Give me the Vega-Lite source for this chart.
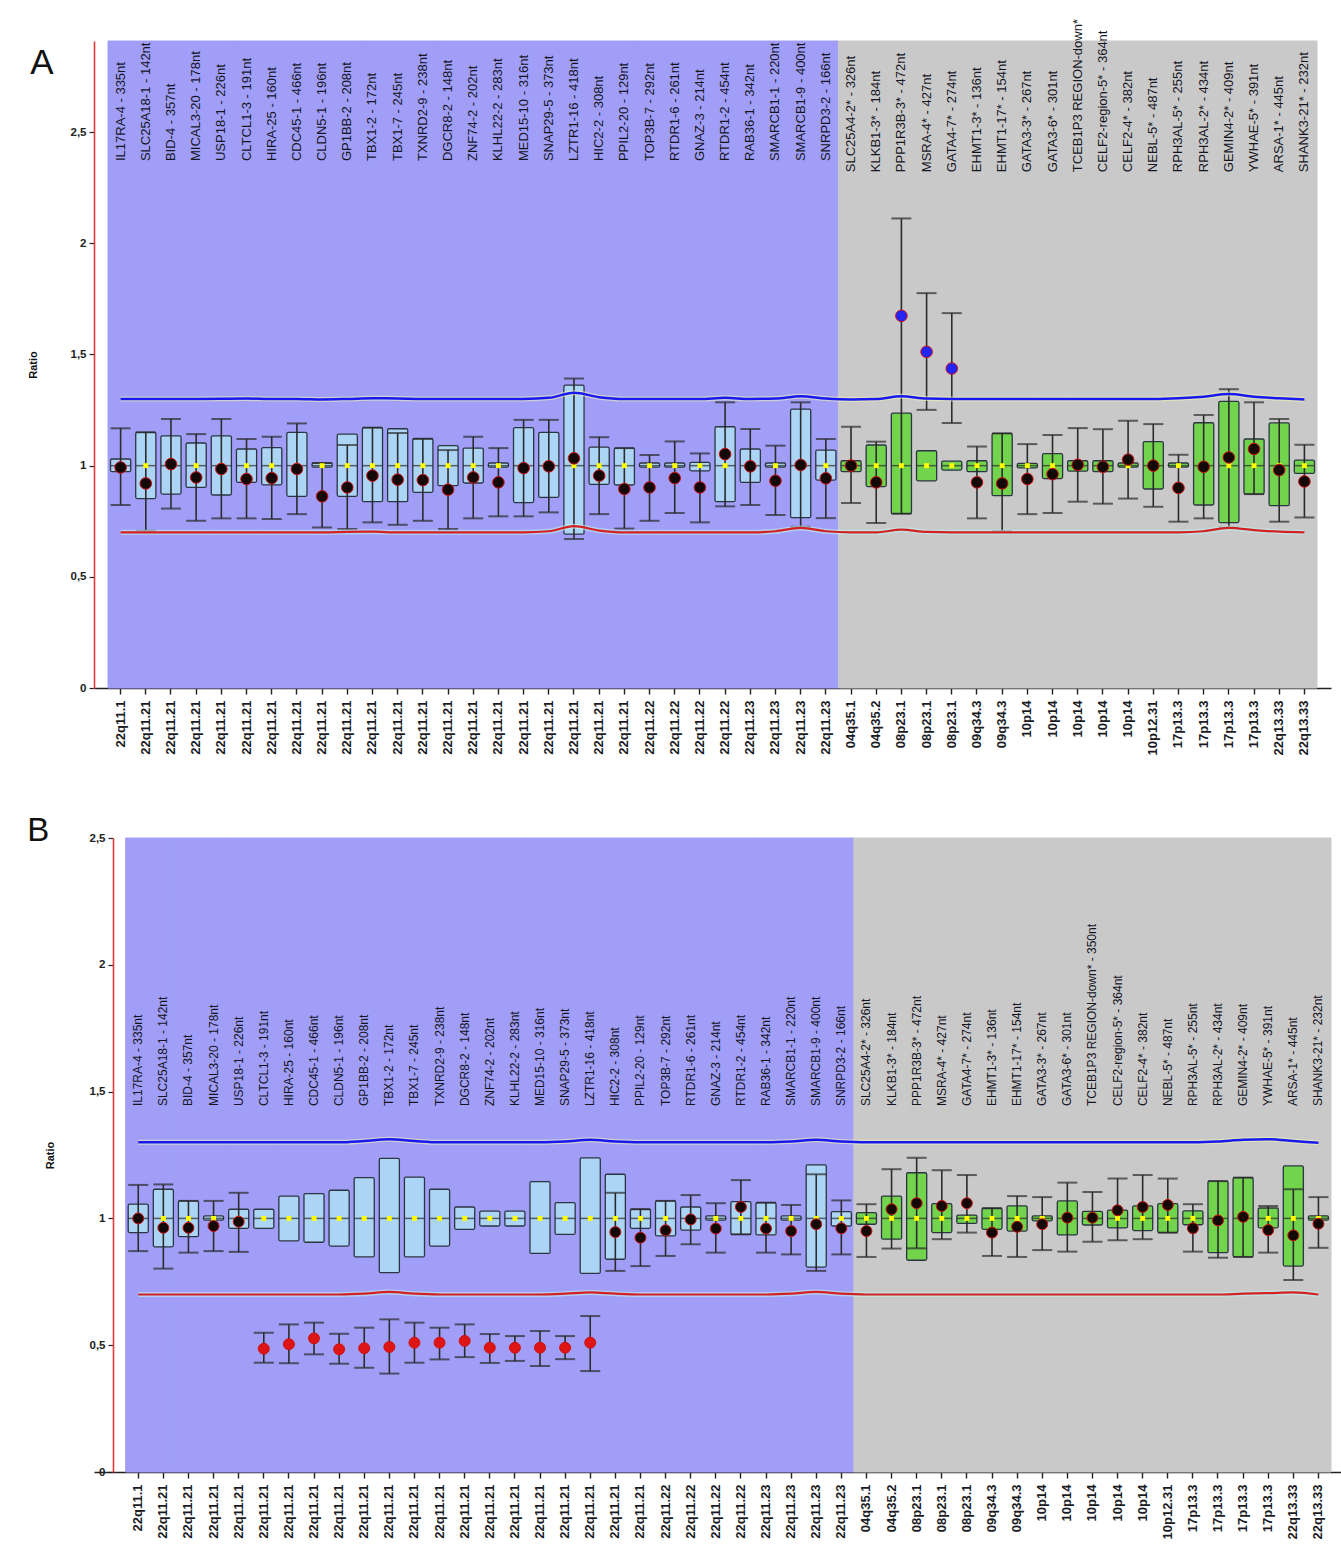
{
"$schema": "https://vega.github.io/schema/vega-lite/v6.json",
"autosize": "pad",
"padding": {"left": 27, "top": 15, "right": 0, "bottom": 0},
"background": "white",
"config": {"view": {"stroke": null}, "font": "Liberation Sans", "axis": {"labelFont": "Liberation Sans", "titleFont": "Liberation Sans"}},
"data": {"values": [
{"p":"A","n":1,"probe":"IL17RA-4 - 335nt","band":"22q11.1","reg":"22q","q1":0.973,"q3":1.03,"lo":0.823,"hi":1.168,"r":0.992,"c":"n","up":1.30,"dn":0.70},
{"p":"A","n":2,"probe":"SLC25A18-1 - 142nt","band":"22q11.21","reg":"22q","q1":0.852,"q3":1.15,"lo":0.707,"hi":1.15,"r":0.92,"c":"n","up":1.30,"dn":0.70},
{"p":"A","n":3,"probe":"BID-4 - 357nt","band":"22q11.21","reg":"22q","q1":0.872,"q3":1.134,"lo":0.807,"hi":1.21,"r":1.007,"c":"n","up":1.30,"dn":0.70},
{"p":"A","n":4,"probe":"MICAL3-20 - 178nt","band":"22q11.21","reg":"22q","q1":0.902,"q3":1.102,"lo":0.752,"hi":1.142,"r":0.947,"c":"n","up":1.30,"dn":0.70},
{"p":"A","n":5,"probe":"USP18-1 - 226nt","band":"22q11.21","reg":"22q","q1":0.868,"q3":1.134,"lo":0.763,"hi":1.21,"r":0.985,"c":"n","up":1.301,"dn":0.70},
{"p":"A","n":6,"probe":"CLTCL1-3 - 191nt","band":"22q11.21","reg":"22q","q1":0.925,"q3":1.075,"lo":0.763,"hi":1.12,"r":0.94,"c":"n","up":1.302,"dn":0.70},
{"p":"A","n":7,"probe":"HIRA-25 - 160nt","band":"22q11.21","reg":"22q","q1":0.914,"q3":1.081,"lo":0.76,"hi":1.13,"r":0.944,"c":"n","up":1.30,"dn":0.70},
{"p":"A","n":8,"probe":"CDC45-1 - 466nt","band":"22q11.21","reg":"22q","q1":0.862,"q3":1.15,"lo":0.782,"hi":1.19,"r":0.985,"c":"n","up":1.30,"dn":0.70},
{"p":"A","n":9,"probe":"CLDN5-1 - 196nt","band":"22q11.21","reg":"22q","q1":0.993,"q3":1.012,"lo":0.722,"hi":1.012,"r":0.862,"c":"n","up":1.298,"dn":0.70},
{"p":"A","n":10,"probe":"GP1BB-2 - 208nt","band":"22q11.21","reg":"22q","q1":0.862,"q3":1.142,"lo":0.715,"hi":1.093,"r":0.902,"c":"n","up":1.30,"dn":0.702},
{"p":"A","n":11,"probe":"TBX1-2 - 172nt","band":"22q11.21","reg":"22q","q1":0.838,"q3":1.171,"lo":0.745,"hi":1.171,"r":0.955,"c":"n","up":1.303,"dn":0.703},
{"p":"A","n":12,"probe":"TBX1-7 - 245nt","band":"22q11.21","reg":"22q","q1":0.838,"q3":1.166,"lo":0.734,"hi":1.147,"r":0.937,"c":"n","up":1.302,"dn":0.70},
{"p":"A","n":13,"probe":"TXNRD2-9 - 238nt","band":"22q11.21","reg":"22q","q1":0.88,"q3":1.121,"lo":0.752,"hi":1.121,"r":0.935,"c":"n","up":1.30,"dn":0.70},
{"p":"A","n":14,"probe":"DGCR8-2 - 148nt","band":"22q11.21","reg":"22q","q1":0.91,"q3":1.09,"lo":0.715,"hi":1.07,"r":0.892,"c":"n","up":1.30,"dn":0.70},
{"p":"A","n":15,"probe":"ZNF74-2 - 202nt","band":"22q11.21","reg":"22q","q1":0.922,"q3":1.079,"lo":0.763,"hi":1.13,"r":0.947,"c":"n","up":1.30,"dn":0.70},
{"p":"A","n":16,"probe":"KLHL22-2 - 283nt","band":"22q11.21","reg":"22q","q1":0.993,"q3":1.012,"lo":0.772,"hi":1.079,"r":0.925,"c":"n","up":1.30,"dn":0.70},
{"p":"A","n":17,"probe":"MED15-10 - 316nt","band":"22q11.21","reg":"22q","q1":0.834,"q3":1.171,"lo":0.772,"hi":1.206,"r":0.989,"c":"n","up":1.30,"dn":0.70},
{"p":"A","n":18,"probe":"SNAP29-5 - 373nt","band":"22q11.21","reg":"22q","q1":0.857,"q3":1.15,"lo":0.79,"hi":1.206,"r":0.997,"c":"n","up":1.305,"dn":0.705},
{"p":"A","n":19,"probe":"LZTR1-16 - 418nt","band":"22q11.21","reg":"22q","q1":0.692,"q3":1.362,"lo":0.67,"hi":1.392,"r":1.033,"c":"n","up":1.328,"dn":0.728},
{"p":"A","n":20,"probe":"HIC2-2 - 308nt","band":"22q11.21","reg":"22q","q1":0.916,"q3":1.083,"lo":0.782,"hi":1.128,"r":0.955,"c":"n","up":1.308,"dn":0.708},
{"p":"A","n":21,"probe":"PPIL2-20 - 129nt","band":"22q11.21","reg":"22q","q1":0.913,"q3":1.079,"lo":0.717,"hi":1.079,"r":0.895,"c":"n","up":1.30,"dn":0.70},
{"p":"A","n":22,"probe":"TOP3B-7 - 292nt","band":"22q11.22","reg":"22q","q1":0.993,"q3":1.012,"lo":0.752,"hi":1.048,"r":0.902,"c":"n","up":1.30,"dn":0.70},
{"p":"A","n":23,"probe":"RTDR1-6 - 261nt","band":"22q11.22","reg":"22q","q1":0.993,"q3":1.012,"lo":0.787,"hi":1.109,"r":0.944,"c":"n","up":1.30,"dn":0.70},
{"p":"A","n":24,"probe":"GNAZ-3 - 214nt","band":"22q11.22","reg":"22q","q1":0.977,"q3":1.015,"lo":0.745,"hi":1.055,"r":0.902,"c":"n","up":1.30,"dn":0.70},
{"p":"A","n":25,"probe":"RTDR1-2 - 454nt","band":"22q11.22","reg":"22q","q1":0.838,"q3":1.175,"lo":0.817,"hi":1.285,"r":1.052,"c":"n","up":1.305,"dn":0.70},
{"p":"A","n":26,"probe":"RAB36-1 - 342nt","band":"22q11.23","reg":"22q","q1":0.925,"q3":1.075,"lo":0.823,"hi":1.165,"r":0.997,"c":"n","up":1.30,"dn":0.70},
{"p":"A","n":27,"probe":"SMARCB1-1 - 220nt","band":"22q11.23","reg":"22q","q1":0.993,"q3":1.012,"lo":0.778,"hi":1.09,"r":0.932,"c":"n","up":1.302,"dn":0.705},
{"p":"A","n":28,"probe":"SMARCB1-9 - 400nt","band":"22q11.23","reg":"22q","q1":0.766,"q3":1.254,"lo":0.725,"hi":1.285,"r":1.003,"c":"n","up":1.312,"dn":0.72},
{"p":"A","n":29,"probe":"SNRPD3-2 - 166nt","band":"22q11.23","reg":"22q","q1":0.935,"q3":1.07,"lo":0.764,"hi":1.12,"r":0.943,"c":"n","up":1.302,"dn":0.705},
{"p":"A","n":30,"probe":"SLC25A4-2* - 326nt","band":"04q35.1","reg":"ref","q1":0.973,"q3":1.022,"lo":0.832,"hi":1.175,"r":1.0,"c":"n","up":1.298,"dn":0.70},
{"p":"A","n":31,"probe":"KLKB1-3* - 184nt","band":"04q35.2","reg":"ref","q1":0.906,"q3":1.093,"lo":0.742,"hi":1.108,"r":0.925,"c":"n","up":1.30,"dn":0.70},
{"p":"A","n":32,"probe":"PPP1R3B-3* - 472nt","band":"08p23.1","reg":"ref","q1":0.784,"q3":1.236,"lo":0.784,"hi":2.112,"r":1.674,"c":"g","up":1.312,"dn":0.712},
{"p":"A","n":33,"probe":"MSRA-4* - 427nt","band":"08p23.1","reg":"ref","q1":0.932,"q3":1.067,"lo":1.251,"hi":1.776,"r":1.512,"c":"g","up":1.302,"dn":0.702},
{"p":"A","n":34,"probe":"GATA4-7* - 274nt","band":"08p23.1","reg":"ref","q1":0.98,"q3":1.02,"lo":1.192,"hi":1.686,"r":1.437,"c":"g","up":1.30,"dn":0.70},
{"p":"A","n":35,"probe":"EHMT1-3* - 136nt","band":"09q34.3","reg":"ref","q1":0.973,"q3":1.022,"lo":0.763,"hi":1.086,"r":0.925,"c":"n","up":1.30,"dn":0.70},
{"p":"A","n":36,"probe":"EHMT1-17* - 154nt","band":"09q34.3","reg":"ref","q1":0.865,"q3":1.145,"lo":0.705,"hi":1.145,"r":0.92,"c":"n","up":1.30,"dn":0.70},
{"p":"A","n":37,"probe":"GATA3-3* - 267nt","band":"10p14","reg":"ref","q1":0.99,"q3":1.01,"lo":0.782,"hi":1.097,"r":0.94,"c":"n","up":1.30,"dn":0.70},
{"p":"A","n":38,"probe":"GATA3-6* - 301nt","band":"10p14","reg":"ref","q1":0.942,"q3":1.054,"lo":0.787,"hi":1.138,"r":0.962,"c":"n","up":1.30,"dn":0.70},
{"p":"A","n":39,"probe":"TCEB1P3 REGION-down* - 350nt","band":"10p14","reg":"ref","q1":0.975,"q3":1.022,"lo":0.838,"hi":1.169,"r":1.004,"c":"n","up":1.30,"dn":0.70},
{"p":"A","n":40,"probe":"CELF2-region-5* - 364nt","band":"10p14","reg":"ref","q1":0.973,"q3":1.022,"lo":0.829,"hi":1.164,"r":0.995,"c":"n","up":1.30,"dn":0.70},
{"p":"A","n":41,"probe":"CELF2-4* - 382nt","band":"10p14","reg":"ref","q1":0.993,"q3":1.012,"lo":0.852,"hi":1.202,"r":1.027,"c":"n","up":1.30,"dn":0.70},
{"p":"A","n":42,"probe":"NEBL-5* - 487nt","band":"10p12.31","reg":"ref","q1":0.895,"q3":1.108,"lo":0.815,"hi":1.187,"r":1.0,"c":"n","up":1.30,"dn":0.70},
{"p":"A","n":43,"probe":"RPH3AL-5* - 255nt","band":"17p13.3","reg":"ref","q1":0.993,"q3":1.012,"lo":0.748,"hi":1.049,"r":0.9,"c":"n","up":1.303,"dn":0.70},
{"p":"A","n":44,"probe":"RPH3AL-2* - 434nt","band":"17p13.3","reg":"ref","q1":0.823,"q3":1.193,"lo":0.763,"hi":1.228,"r":0.995,"c":"n","up":1.31,"dn":0.705},
{"p":"A","n":45,"probe":"GEMIN4-2* - 409nt","band":"17p13.3","reg":"ref","q1":0.744,"q3":1.289,"lo":0.722,"hi":1.344,"r":1.037,"c":"n","up":1.322,"dn":0.72},
{"p":"A","n":46,"probe":"YWHAE-5* - 391nt","band":"17p13.3","reg":"ref","q1":0.872,"q3":1.12,"lo":0.872,"hi":1.285,"r":1.075,"c":"n","up":1.31,"dn":0.71},
{"p":"A","n":47,"probe":"ARSA-1* - 445nt","band":"22q13.33","reg":"ref","q1":0.82,"q3":1.192,"lo":0.748,"hi":1.21,"r":0.98,"c":"n","up":1.303,"dn":0.703},
{"p":"A","n":48,"probe":"SHANK3-21* - 232nt","band":"22q13.33","reg":"ref","q1":0.965,"q3":1.025,"lo":0.767,"hi":1.094,"r":0.929,"c":"n","up":1.298,"dn":0.70},
{"p":"B","n":1,"probe":"IL17RA-4 - 335nt","band":"22q11.1","reg":"22q","q1":0.944,"q3":1.056,"lo":0.871,"hi":1.132,"r":1.0,"c":"n","up":1.30,"dn":0.70},
{"p":"B","n":2,"probe":"SLC25A18-1 - 142nt","band":"22q11.21","reg":"22q","q1":0.888,"q3":1.115,"lo":0.802,"hi":1.134,"r":0.963,"c":"n","up":1.30,"dn":0.70},
{"p":"B","n":3,"probe":"BID-4 - 357nt","band":"22q11.21","reg":"22q","q1":0.928,"q3":1.069,"lo":0.865,"hi":1.069,"r":0.963,"c":"n","up":1.30,"dn":0.70},
{"p":"B","n":4,"probe":"MICAL3-20 - 178nt","band":"22q11.21","reg":"22q","q1":0.993,"q3":1.01,"lo":0.871,"hi":1.069,"r":0.97,"c":"n","up":1.30,"dn":0.70},
{"p":"B","n":5,"probe":"USP18-1 - 226nt","band":"22q11.21","reg":"22q","q1":0.961,"q3":1.036,"lo":0.868,"hi":1.101,"r":0.987,"c":"n","up":1.30,"dn":0.70},
{"p":"B","n":6,"probe":"CLTCL1-3 - 191nt","band":"22q11.21","reg":"22q","q1":0.961,"q3":1.036,"lo":0.431,"hi":0.549,"r":0.486,"c":"l","up":1.30,"dn":0.70},
{"p":"B","n":7,"probe":"HIRA-25 - 160nt","band":"22q11.21","reg":"22q","q1":0.911,"q3":1.088,"lo":0.429,"hi":0.582,"r":0.504,"c":"l","up":1.30,"dn":0.70},
{"p":"B","n":8,"probe":"CDC45-1 - 466nt","band":"22q11.21","reg":"22q","q1":0.906,"q3":1.098,"lo":0.464,"hi":0.589,"r":0.527,"c":"l","up":1.30,"dn":0.70},
{"p":"B","n":9,"probe":"CLDN5-1 - 196nt","band":"22q11.21","reg":"22q","q1":0.891,"q3":1.111,"lo":0.427,"hi":0.545,"r":0.484,"c":"l","up":1.30,"dn":0.70},
{"p":"B","n":10,"probe":"GP1BB-2 - 208nt","band":"22q11.21","reg":"22q","q1":0.848,"q3":1.161,"lo":0.411,"hi":0.569,"r":0.488,"c":"l","up":1.305,"dn":0.703},
{"p":"B","n":11,"probe":"TBX1-2 - 172nt","band":"22q11.21","reg":"22q","q1":0.786,"q3":1.237,"lo":0.388,"hi":0.602,"r":0.493,"c":"l","up":1.312,"dn":0.71},
{"p":"B","n":12,"probe":"TBX1-7 - 245nt","band":"22q11.21","reg":"22q","q1":0.848,"q3":1.163,"lo":0.431,"hi":0.589,"r":0.51,"c":"l","up":1.305,"dn":0.703},
{"p":"B","n":13,"probe":"TXNRD2-9 - 238nt","band":"22q11.21","reg":"22q","q1":0.891,"q3":1.115,"lo":0.444,"hi":0.569,"r":0.51,"c":"l","up":1.30,"dn":0.70},
{"p":"B","n":14,"probe":"DGCR8-2 - 148nt","band":"22q11.21","reg":"22q","q1":0.957,"q3":1.045,"lo":0.453,"hi":0.582,"r":0.517,"c":"l","up":1.30,"dn":0.70},
{"p":"B","n":15,"probe":"ZNF74-2 - 202nt","band":"22q11.21","reg":"22q","q1":0.97,"q3":1.029,"lo":0.43,"hi":0.544,"r":0.49,"c":"l","up":1.30,"dn":0.70},
{"p":"B","n":16,"probe":"KLHL22-2 - 283nt","band":"22q11.21","reg":"22q","q1":0.97,"q3":1.029,"lo":0.438,"hi":0.536,"r":0.49,"c":"l","up":1.30,"dn":0.70},
{"p":"B","n":17,"probe":"MED15-10 - 316nt","band":"22q11.21","reg":"22q","q1":0.862,"q3":1.145,"lo":0.418,"hi":0.556,"r":0.49,"c":"l","up":1.30,"dn":0.70},
{"p":"B","n":18,"probe":"SNAP29-5 - 373nt","band":"22q11.21","reg":"22q","q1":0.937,"q3":1.062,"lo":0.445,"hi":0.536,"r":0.49,"c":"l","up":1.303,"dn":0.703},
{"p":"B","n":19,"probe":"LZTR1-16 - 418nt","band":"22q11.21","reg":"22q","q1":0.783,"q3":1.239,"lo":0.398,"hi":0.615,"r":0.51,"c":"l","up":1.31,"dn":0.708},
{"p":"B","n":20,"probe":"HIC2-2 - 308nt","band":"22q11.21","reg":"22q","q1":0.839,"q3":1.174,"lo":0.793,"hi":1.101,"r":0.946,"c":"n","up":1.303,"dn":0.703},
{"p":"B","n":21,"probe":"PPIL2-20 - 129nt","band":"22q11.21","reg":"22q","q1":0.961,"q3":1.036,"lo":0.812,"hi":1.036,"r":0.924,"c":"n","up":1.30,"dn":0.70},
{"p":"B","n":22,"probe":"TOP3B-7 - 292nt","band":"22q11.22","reg":"22q","q1":0.931,"q3":1.069,"lo":0.852,"hi":1.069,"r":0.953,"c":"n","up":1.30,"dn":0.70},
{"p":"B","n":23,"probe":"RTDR1-6 - 261nt","band":"22q11.22","reg":"22q","q1":0.954,"q3":1.045,"lo":0.898,"hi":1.092,"r":0.996,"c":"n","up":1.30,"dn":0.70},
{"p":"B","n":24,"probe":"GNAZ-3 - 214nt","band":"22q11.22","reg":"22q","q1":0.993,"q3":1.01,"lo":0.865,"hi":1.06,"r":0.96,"c":"n","up":1.30,"dn":0.70},
{"p":"B","n":25,"probe":"RTDR1-2 - 454nt","band":"22q11.22","reg":"22q","q1":0.937,"q3":1.066,"lo":0.937,"hi":1.151,"r":1.045,"c":"n","up":1.30,"dn":0.70},
{"p":"B","n":26,"probe":"RAB36-1 - 342nt","band":"22q11.23","reg":"22q","q1":0.935,"q3":1.062,"lo":0.865,"hi":1.062,"r":0.96,"c":"n","up":1.30,"dn":0.70},
{"p":"B","n":27,"probe":"SMARCB1-1 - 220nt","band":"22q11.23","reg":"22q","q1":0.993,"q3":1.01,"lo":0.858,"hi":1.053,"r":0.95,"c":"n","up":1.303,"dn":0.703},
{"p":"B","n":28,"probe":"SMARCB1-9 - 400nt","band":"22q11.23","reg":"22q","q1":0.808,"q3":1.211,"lo":0.793,"hi":1.174,"r":0.977,"c":"n","up":1.31,"dn":0.71},
{"p":"B","n":29,"probe":"SNRPD3-2 - 166nt","band":"22q11.23","reg":"22q","q1":0.97,"q3":1.027,"lo":0.858,"hi":1.071,"r":0.961,"c":"n","up":1.303,"dn":0.703},
{"p":"B","n":30,"probe":"SLC25A4-2* - 326nt","band":"04q35.1","reg":"ref","q1":0.977,"q3":1.023,"lo":0.848,"hi":1.056,"r":0.95,"c":"n","up":1.30,"dn":0.70},
{"p":"B","n":31,"probe":"KLKB1-3* - 184nt","band":"04q35.2","reg":"ref","q1":0.918,"q3":1.088,"lo":0.881,"hi":1.194,"r":1.036,"c":"n","up":1.30,"dn":0.70},
{"p":"B","n":32,"probe":"PPP1R3B-3* - 472nt","band":"08p23.1","reg":"ref","q1":0.835,"q3":1.18,"lo":0.882,"hi":1.239,"r":1.06,"c":"n","up":1.30,"dn":0.70},
{"p":"B","n":33,"probe":"MSRA-4* - 427nt","band":"08p23.1","reg":"ref","q1":0.944,"q3":1.058,"lo":0.918,"hi":1.19,"r":1.049,"c":"n","up":1.30,"dn":0.70},
{"p":"B","n":34,"probe":"GATA4-7* - 274nt","band":"08p23.1","reg":"ref","q1":0.98,"q3":1.013,"lo":0.944,"hi":1.171,"r":1.06,"c":"n","up":1.30,"dn":0.70},
{"p":"B","n":35,"probe":"EHMT1-3* - 136nt","band":"09q34.3","reg":"ref","q1":0.957,"q3":1.04,"lo":0.852,"hi":1.04,"r":0.944,"c":"n","up":1.30,"dn":0.70},
{"p":"B","n":36,"probe":"EHMT1-17* - 154nt","band":"09q34.3","reg":"ref","q1":0.95,"q3":1.049,"lo":0.848,"hi":1.088,"r":0.967,"c":"n","up":1.30,"dn":0.70},
{"p":"B","n":37,"probe":"GATA3-3* - 267nt","band":"10p14","reg":"ref","q1":0.99,"q3":1.01,"lo":0.875,"hi":1.084,"r":0.977,"c":"n","up":1.30,"dn":0.70},
{"p":"B","n":38,"probe":"GATA3-6* - 301nt","band":"10p14","reg":"ref","q1":0.935,"q3":1.069,"lo":0.869,"hi":1.141,"r":1.003,"c":"n","up":1.30,"dn":0.70},
{"p":"B","n":39,"probe":"TCEB1P3 REGION-down* - 350nt","band":"10p14","reg":"ref","q1":0.974,"q3":1.028,"lo":0.908,"hi":1.104,"r":1.003,"c":"n","up":1.30,"dn":0.70},
{"p":"B","n":40,"probe":"CELF2-region-5* - 364nt","band":"10p14","reg":"ref","q1":0.963,"q3":1.033,"lo":0.914,"hi":1.157,"r":1.032,"c":"n","up":1.30,"dn":0.70},
{"p":"B","n":41,"probe":"CELF2-4* - 382nt","band":"10p14","reg":"ref","q1":0.952,"q3":1.049,"lo":0.918,"hi":1.171,"r":1.045,"c":"n","up":1.30,"dn":0.70},
{"p":"B","n":42,"probe":"NEBL-5* - 487nt","band":"10p12.31","reg":"ref","q1":0.944,"q3":1.058,"lo":0.944,"hi":1.157,"r":1.053,"c":"n","up":1.30,"dn":0.70},
{"p":"B","n":43,"probe":"RPH3AL-5* - 255nt","band":"17p13.3","reg":"ref","q1":0.975,"q3":1.03,"lo":0.869,"hi":1.056,"r":0.961,"c":"n","up":1.30,"dn":0.70},
{"p":"B","n":44,"probe":"RPH3AL-2* - 434nt","band":"17p13.3","reg":"ref","q1":0.865,"q3":1.147,"lo":0.845,"hi":1.147,"r":0.992,"c":"n","up":1.303,"dn":0.70},
{"p":"B","n":45,"probe":"GEMIN4-2* - 409nt","band":"17p13.3","reg":"ref","q1":0.848,"q3":1.161,"lo":0.848,"hi":1.161,"r":1.006,"c":"n","up":1.31,"dn":0.703},
{"p":"B","n":46,"probe":"YWHAE-5* - 391nt","band":"17p13.3","reg":"ref","q1":0.963,"q3":1.041,"lo":0.865,"hi":1.049,"r":0.954,"c":"n","up":1.312,"dn":0.705},
{"p":"B","n":47,"probe":"ARSA-1* - 445nt","band":"22q13.33","reg":"ref","q1":0.812,"q3":1.207,"lo":0.757,"hi":1.115,"r":0.933,"c":"n","up":1.305,"dn":0.708},
{"p":"B","n":48,"probe":"SHANK3-21* - 232nt","band":"22q13.33","reg":"ref","q1":0.993,"q3":1.01,"lo":0.884,"hi":1.084,"r":0.979,"c":"n","up":1.298,"dn":0.70}
]},
"concat": [
{
"width": 1237, "height": 647,
"transform": [{"filter": "datum.p === 'A'"}],
"encoding": {"x": {"field": "n", "type": "ordinal", "scale": {"paddingInner": 0, "paddingOuter": 0.556, "align": 0.5},
  "axis": {"title": null, "labelExpr": "['22q11.1','22q11.21','22q11.21','22q11.21','22q11.21','22q11.21','22q11.21','22q11.21','22q11.21','22q11.21','22q11.21','22q11.21','22q11.21','22q11.21','22q11.21','22q11.21','22q11.21','22q11.21','22q11.21','22q11.21','22q11.21','22q11.22','22q11.22','22q11.22','22q11.22','22q11.23','22q11.23','22q11.23','22q11.23','04q35.1','04q35.2','08p23.1','08p23.1','08p23.1','09q34.3','09q34.3','10p14','10p14','10p14','10p14','10p14','10p12.31','17p13.3','17p13.3','17p13.3','17p13.3','22q13.33','22q13.33'][datum.value - 1]", "labelAngle": 270, "labelFontSize": 13, "labelFontWeight": "bold", "labelColor": "#1a1a24", "labelPadding": 6, "domainColor": "#222", "domainWidth": 1.5, "tickColor": "#222", "tickSize": 6, "tickWidth": 1.4}}},
"layer": [
 {"mark": {"type": "bar", "strokeWidth": 1},
  "encoding": {"y": {"datum": 2.91, "type": "quantitative", "scale": {"domain": [0, 2.91], "nice": false, "zero": false}},
   "y2": {"datum": 0},
   "fill": {"condition": {"test": "datum.reg === 'ref'", "value": "#c9c9c9"}, "value": "#a09ef7"},
   "stroke": {"condition": {"test": "datum.reg === 'ref'", "value": "#c9c9c9"}, "value": "#a09ef7"}}},
 {"mark": {"type": "bar", "width": {"band": 0.8}, "stroke": "#2b3542", "strokeWidth": 1.3, "cornerRadius": 1.5},
  "encoding": {"y": {"field": "q1", "type": "quantitative",
     "axis": {"title": "Ratio", "titleFontSize": 11, "titleFontWeight": "bold", "titleColor": "#111", "titlePadding": 32, "values": [0, 0.5, 1, 1.5, 2, 2.5], "labelExpr": "replace(format(datum.value, '~g'), '.', ',')", "labelFontSize": 11.5, "labelFontWeight": "bold", "labelColor": "#222", "labelPadding": 3, "domainColor": "#e03a3a", "domainWidth": 1.6, "tickColor": "#222", "tickSize": 5, "tickWidth": 1.2, "grid": false}},
   "y2": {"field": "q3"},
   "fill": {"condition": {"test": "datum.reg === 'ref'", "value": "#72d44c"}, "value": "#acd5f5"}}},
 {"mark": {"type": "rule", "color": "#2b2b2b", "strokeWidth": 1.6},
  "encoding": {"y": {"field": "lo", "type": "quantitative"}, "y2": {"field": "hi"}}},
 {"mark": {"type": "tick", "color": "#2b2b2b", "size": 20, "thickness": 2},
  "encoding": {"y": {"field": "lo", "type": "quantitative"}}},
 {"mark": {"type": "tick", "color": "#2b2b2b", "size": 20, "thickness": 2},
  "encoding": {"y": {"field": "hi", "type": "quantitative"}}},
 {"mark": {"type": "tick", "color": "#2b2b2b", "size": 20, "thickness": 1.5},
  "encoding": {"y": {"datum": 1, "type": "quantitative"}}},
 {"mark": {"type": "line", "color": "#f2f2b8", "strokeWidth": 5, "opacity": 0.6, "interpolate": "monotone"},
  "encoding": {"y": {"field": "up", "type": "quantitative"}}},
 {"mark": {"type": "line", "color": "#bff2f2", "strokeWidth": 5, "opacity": 0.6, "interpolate": "monotone"},
  "encoding": {"y": {"field": "dn", "type": "quantitative"}}},
 {"mark": {"type": "line", "color": "#1818f0", "strokeWidth": 2.5, "interpolate": "monotone"},
  "encoding": {"y": {"field": "up", "type": "quantitative"}}},
 {"mark": {"type": "line", "color": "#d42020", "strokeWidth": 2.2, "interpolate": "monotone"},
  "encoding": {"y": {"field": "dn", "type": "quantitative"}}},
 {"mark": {"type": "point", "shape": "square", "filled": true, "color": "#ffff00", "size": 24, "opacity": 1},
  "encoding": {"y": {"datum": 1, "type": "quantitative"}}},
 {"mark": {"type": "circle", "size": 135, "stroke": "#d01010", "strokeWidth": 1, "opacity": 1},
  "encoding": {"y": {"field": "r", "type": "quantitative"},
   "fill": {"condition": [{"test": "datum.c === 'g'", "value": "#2424f4"}, {"test": "datum.c === 'l'", "value": "#dd1515"}], "value": "#120808"}}},
 {"transform": [{"filter": "datum.reg === '22q'"}],
  "mark": {"type": "text", "angle": 270, "align": "left", "baseline": "middle", "fontSize": 13, "font": "Liberation Sans", "color": "#15151f", "limit": 147, "ellipsis": " "},
  "encoding": {"y": {"datum": 2.37, "type": "quantitative"}, "text": {"field": "probe"}}},
 {"transform": [{"filter": "datum.reg === 'ref'"}],
  "mark": {"type": "text", "angle": 270, "align": "left", "baseline": "middle", "fontSize": 13, "font": "Liberation Sans", "color": "#15151f", "limit": 158, "ellipsis": " "},
  "encoding": {"y": {"datum": 2.32, "type": "quantitative"}, "text": {"field": "probe"}}},
 {"transform": [{"filter": "datum.n === 1"}],
  "mark": {"type": "text", "text": "A", "fontSize": 35, "font": "Liberation Sans", "color": "#111", "align": "center", "baseline": "alphabetic", "dx": -78.6},
  "encoding": {"y": {"datum": 2.761, "type": "quantitative"}}}
]
},
{
"width": 1247, "height": 634,
"transform": [{"filter": "datum.p === 'B'"}],
"encoding": {"x": {"field": "n", "type": "ordinal", "scale": {"paddingInner": 0, "paddingOuter": 0.83, "align": 0.76},
  "axis": {"title": null, "labelExpr": "['22q11.1','22q11.21','22q11.21','22q11.21','22q11.21','22q11.21','22q11.21','22q11.21','22q11.21','22q11.21','22q11.21','22q11.21','22q11.21','22q11.21','22q11.21','22q11.21','22q11.21','22q11.21','22q11.21','22q11.21','22q11.21','22q11.22','22q11.22','22q11.22','22q11.22','22q11.23','22q11.23','22q11.23','22q11.23','04q35.1','04q35.2','08p23.1','08p23.1','08p23.1','09q34.3','09q34.3','10p14','10p14','10p14','10p14','10p14','10p12.31','17p13.3','17p13.3','17p13.3','17p13.3','22q13.33','22q13.33'][datum.value - 1]", "labelAngle": 270, "labelFontSize": 13, "labelFontWeight": "bold", "labelColor": "#1a1a24", "labelPadding": 6, "domainColor": "#222", "domainWidth": 1.5, "tickColor": "#222", "tickSize": 6, "tickWidth": 1.4}}},
"layer": [
 {"mark": {"type": "bar", "strokeWidth": 1},
  "encoding": {"y": {"datum": 2.5, "type": "quantitative", "scale": {"domain": [0, 2.5], "nice": false, "zero": false}},
   "y2": {"datum": 0},
   "fill": {"condition": {"test": "datum.reg === 'ref'", "value": "#c9c9c9"}, "value": "#a09ef7"},
   "stroke": {"condition": {"test": "datum.reg === 'ref'", "value": "#c9c9c9"}, "value": "#a09ef7"}}},
 {"mark": {"type": "bar", "width": {"band": 0.8}, "stroke": "#2b3542", "strokeWidth": 1.3, "cornerRadius": 1.5},
  "encoding": {"y": {"field": "q1", "type": "quantitative",
     "axis": {"title": "Ratio", "offset": -19, "titleFontSize": 11, "titleFontWeight": "bold", "titleColor": "#111", "titlePadding": 34, "values": [0, 0.5, 1, 1.5, 2, 2.5], "labelExpr": "replace(format(datum.value, '~g'), '.', ',')", "labelFontSize": 11.5, "labelFontWeight": "bold", "labelColor": "#222", "labelPadding": 3, "domainColor": "#e03a3a", "domainWidth": 1.6, "tickColor": "#222", "tickSize": 5, "tickWidth": 1.2, "grid": false}},
   "y2": {"field": "q3"},
   "fill": {"condition": {"test": "datum.reg === 'ref'", "value": "#72d44c"}, "value": "#acd5f5"}}},
 {"mark": {"type": "rule", "color": "#2b2b2b", "strokeWidth": 1.6},
  "encoding": {"y": {"field": "lo", "type": "quantitative"}, "y2": {"field": "hi"}}},
 {"mark": {"type": "tick", "color": "#2b2b2b", "size": 20, "thickness": 2},
  "encoding": {"y": {"field": "lo", "type": "quantitative"}}},
 {"mark": {"type": "tick", "color": "#2b2b2b", "size": 20, "thickness": 2},
  "encoding": {"y": {"field": "hi", "type": "quantitative"}}},
 {"mark": {"type": "tick", "color": "#2b2b2b", "size": 20, "thickness": 1.5},
  "encoding": {"y": {"datum": 1, "type": "quantitative"}}},
 {"mark": {"type": "line", "color": "#f2f2b8", "strokeWidth": 5, "opacity": 0.6, "interpolate": "monotone"},
  "encoding": {"y": {"field": "up", "type": "quantitative"}}},
 {"mark": {"type": "line", "color": "#bff2f2", "strokeWidth": 5, "opacity": 0.6, "interpolate": "monotone"},
  "encoding": {"y": {"field": "dn", "type": "quantitative"}}},
 {"mark": {"type": "line", "color": "#1818f0", "strokeWidth": 2.5, "interpolate": "monotone"},
  "encoding": {"y": {"field": "up", "type": "quantitative"}}},
 {"mark": {"type": "line", "color": "#d42020", "strokeWidth": 2.2, "interpolate": "monotone"},
  "encoding": {"y": {"field": "dn", "type": "quantitative"}}},
 {"mark": {"type": "point", "shape": "square", "filled": true, "color": "#ffff00", "size": 24, "opacity": 1},
  "encoding": {"y": {"datum": 1, "type": "quantitative"}}},
 {"mark": {"type": "circle", "size": 120, "stroke": "#d01010", "strokeWidth": 1, "opacity": 1},
  "encoding": {"y": {"field": "r", "type": "quantitative"},
   "fill": {"condition": [{"test": "datum.c === 'g'", "value": "#2424f4"}, {"test": "datum.c === 'l'", "value": "#dd1515"}], "value": "#120808"}}},
 {"mark": {"type": "text", "angle": 270, "align": "left", "baseline": "middle", "fontSize": 12, "font": "Liberation Sans", "color": "#15151f"},
  "encoding": {"y": {"datum": 1.443, "type": "quantitative"}, "text": {"field": "probe"}}},
 {"transform": [{"filter": "datum.n === 1"}],
  "mark": {"type": "text", "text": "B", "fontSize": 33, "font": "Liberation Sans", "color": "#111", "align": "center", "baseline": "alphabetic", "dx": -100},
  "encoding": {"y": {"datum": 2.488, "type": "quantitative"}}}
]
}
],
"columns": 1,
"align": "none",
"spacing": 60
}
